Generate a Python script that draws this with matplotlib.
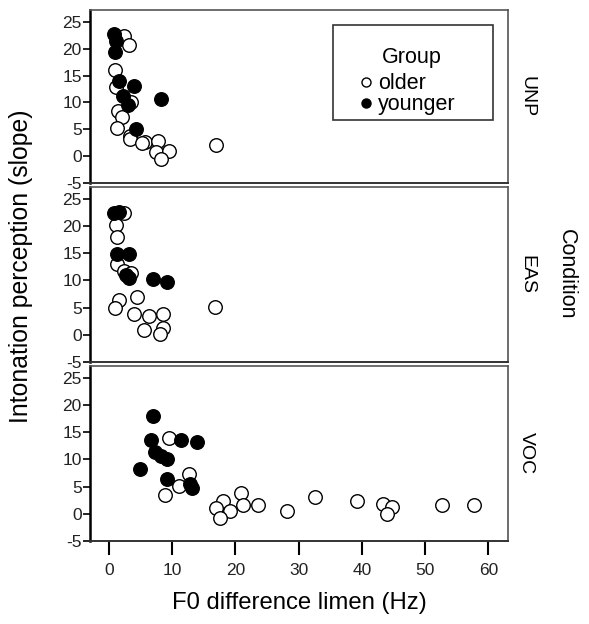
import matplotlib
matplotlib.use("Agg")
import matplotlib.pyplot as plt
from matplotlib.lines import Line2D
from matplotlib.patches import Rectangle

plt.rcParams['font.family'] = ['Liberation Sans', 'DejaVu Sans']
plt.rcParams['axes.unicode_minus'] = False

conditions = ['UNP', 'EAS', 'VOC']

# F0 difference limen (Hz) and intonation slope, per condition and group
older_x = {
    'UNP': [2.35, 3.1, 1.0, 1.1, 3.5, 1.4, 2.0, 1.3, 3.25, 3.4, 5.65, 7.7, 5.2, 7.4, 9.55, 8.2, 16.85],
    'EAS': [2.45, 1.1, 1.3, 1.3, 2.45, 3.5, 1.65, 0.95, 4.5, 3.95, 6.35, 8.5, 5.5, 8.5, 8.05, 16.75],
    'VOC': [9.5, 12.65, 11.0, 8.85, 20.9, 18.1, 21.25, 23.6, 16.9, 19.15, 17.55, 28.1, 32.6,
            39.2, 43.3, 44.7, 44.0, 52.7, 57.75],
}
older_y = {
    'UNP': [22.4, 20.7, 16.0, 12.8, 10.0, 8.4, 7.2, 5.3, 3.8, 3.2, 2.7, 2.9, 2.4, 0.8, 0.9, -0.6, 2.1],
    'EAS': [22.4, 20.2, 18.0, 13.0, 11.8, 11.3, 6.4, 4.9, 6.9, 3.8, 3.5, 3.75, 0.9, 1.3, 0.2, 5.1],
    'VOC': [13.9, 7.4, 5.2, 3.4, 3.9, 2.4, 1.7, 1.7, 1.1, 0.5, -0.75, 0.6, 3.1,
            2.3, 1.9, 1.25, 0.0, 1.6, 1.7],
}
younger_x = {
    'UNP': [0.85, 1.1, 1.0, 1.65, 3.95, 2.2, 3.0, 8.2, 4.2],
    'EAS': [0.85, 1.65, 1.3, 3.1, 3.1, 2.7, 6.9, 9.1],
    'VOC': [6.9, 6.65, 11.4, 13.9, 7.3, 8.2, 9.1, 4.9, 9.2, 13.1, 12.8],
}
younger_y = {
    'UNP': [22.7, 21.5, 19.4, 14.0, 13.0, 11.2, 9.5, 10.7, 5.0],
    'EAS': [22.4, 22.6, 14.9, 14.9, 10.5, 11.0, 10.2, 9.8],
    'VOC': [18.0, 13.6, 13.6, 13.3, 11.4, 10.6, 10.0, 8.3, 6.4, 4.7, 5.5],
}

x_ticks = [0, 10, 20, 30, 40, 50, 60]
y_ticks = [-5, 0, 5, 10, 15, 20, 25]

fig = plt.figure(figsize=(5.89, 6.24), dpi=100)

left, width = 0.1528, 0.7097
panel_boxes = [(0.7067, 0.2773), (0.4199, 0.2804), (0.1330, 0.2805)]

axes = []
for i, cond in enumerate(conditions):
    bottom, height = panel_boxes[i]
    ax = fig.add_axes([left, bottom, width, height])
    ax.scatter(older_x[cond], older_y[cond], s=95, facecolor='white',
               edgecolor='black', linewidth=1.0, zorder=3)
    ax.scatter(younger_x[cond], younger_y[cond], s=95, facecolor='black',
               edgecolor='black', linewidth=1.0, zorder=3)
    ax.set_xlim(-3, 63.1)
    ax.set_ylim(-5, 27.2)
    ax.set_yticks(y_ticks)
    ax.tick_params(axis='y', direction='out', length=5, width=1.2,
                   labelsize=12.5, labelcolor='#222222', pad=1)
    for side in ['top', 'right']:
        ax.spines[side].set_color('#555555')
        ax.spines[side].set_linewidth(1.2)
    ax.spines['left'].set_color('black')
    ax.spines['left'].set_linewidth(1.8)
    ax.spines['bottom'].set_color('#333333')
    ax.spines['bottom'].set_linewidth(1.4)
    ax.text(1.045, 0.5, cond, transform=ax.transAxes, rotation=270,
            ha='center', va='center', fontsize=14)
    if i < 2:
        ax.set_xticks([])
    else:
        ax.set_xticks(x_ticks)
        ax.tick_params(axis='x', direction='out', length=10, width=1.5,
                       labelsize=12.5, labelcolor='#222222', pad=6)
    axes.append(ax)

# legend box in the top panel
top = axes[0]
top.add_patch(Rectangle((0.581, 0.364), 0.383, 0.549, transform=top.transAxes,
                        facecolor='white', edgecolor='#333333', linewidth=1.2,
                        zorder=4))
top.text(0.770, 0.728, 'Group', transform=top.transAxes, ha='center',
         va='center', fontsize=15.5, zorder=5)
handles = [
    Line2D([], [], linestyle='none', marker='o', markersize=6.5,
           markerfacecolor='white', markeredgecolor='black'),
    Line2D([], [], linestyle='none', marker='o', markersize=6.5,
           markerfacecolor='black', markeredgecolor='black'),
]
leg = top.legend(handles, ['older', 'younger'], loc='center',
                 bbox_to_anchor=(0.757, 0.512), frameon=False, fontsize=15.5,
                 handletextpad=0.15, handlelength=0.8,
                 labelspacing=0.0, borderpad=0.1)
leg.set_zorder(5)

fig.text(0.035, 0.573, 'Intonation perception (slope)', rotation=90,
         ha='center', va='center', fontsize=17.8)
fig.text(0.509, 0.033, 'F0 difference limen (Hz)', ha='center', va='center',
         fontsize=17.2)
fig.text(0.962, 0.56, 'Condition', rotation=270, ha='center', va='center',
         fontsize=15.5)

fig.savefig('out.png', dpi=100)
